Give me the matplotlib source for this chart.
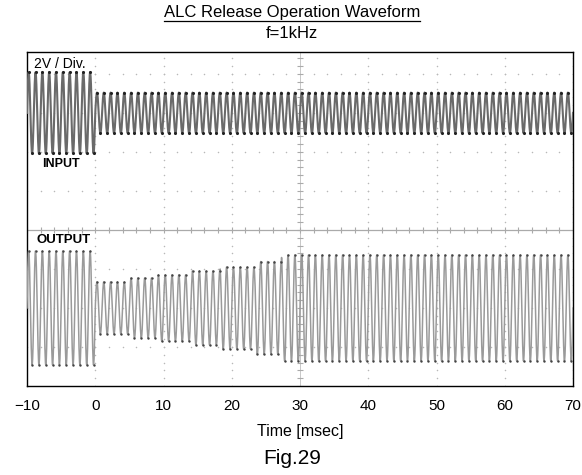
import numpy as np
import matplotlib
matplotlib.use("Agg")
import matplotlib.pyplot as plt
from matplotlib.lines import Line2D

plt.rcParams['font.family'] = ['Liberation Sans', 'DejaVu Sans']

# signal settings (units: ms, divisions)
freq_khz = 1.0
t_start, t_end = -10, 70
x_ticks = [-10, 0, 10, 20, 30, 40, 50, 60, 70]

# input trace: centre at +3 div, amplitude steps down at t=0
input_center = 3.0
input_step_t = [-10, 0]
input_step_amp = [1.04, 0.52]

# output trace: centre at -2 div, ALC releases gain in steps
output_center = -2.0
output_step_t = [-10, 0, 5, 9.2, 14.2, 18.3, 23.4, 27.3]
output_step_amp = [1.46, 0.67, 0.77, 0.85, 0.95, 1.05, 1.19, 1.36]

t = np.arange(t_start, t_end + 0.001, 1 / 40)
carrier = np.sin(2 * np.pi * freq_khz * t)


def envelope(step_t, step_amp):
    idx = np.searchsorted(step_t, t, side='right') - 1
    return np.array(step_amp)[np.clip(idx, 0, len(step_amp) - 1)]


y_in = input_center + envelope(input_step_t, input_step_amp) * carrier
y_out = output_center + envelope(output_step_t, output_step_amp) * carrier

fig = plt.figure(figsize=(5.82, 4.75), dpi=100)
ax = fig.add_axes([27 / 582, 1 - 386 / 475, 546 / 582, 334 / 475])
ax.set_xlim(t_start, t_end)
ax.set_ylim(-4, 4.56)

# graticule: dots at each fifth of a division
grid_col = '#b8b8b8'
for gx in range(0, 71, 10):
    ys = np.arange(-4, 4.6, 0.2)
    ax.scatter(np.full_like(ys, gx), ys, s=1.2, color=grid_col, lw=0, zorder=1)
for gy in range(-3, 5):
    xs = np.arange(-10, 70.01, 2)
    ax.scatter(xs, np.full_like(xs, gy), s=1.2, color=grid_col, lw=0, zorder=1)
ax.axhline(0, color='#aaaaaa', lw=0.9, zorder=1)
ax.axvline(30, color='#c8c8c8', lw=0.7, zorder=1)
ax.scatter(np.arange(-10, 70.01, 2), np.zeros(41), marker='|', s=14, color='#aaaaaa', lw=0.8, zorder=1)
ax.scatter(np.full(43, 30), np.arange(-4, 4.6, 0.2), marker='_', s=14, color='#aaaaaa', lw=0.8, zorder=1)

# traces
ax.plot(t, y_in, color='#6a6a6a', lw=1.5, zorder=3)
ax.plot(t, y_out, color='#9a9a9a', lw=1.1, zorder=3)
pk = np.isclose(np.abs(carrier), 1, atol=0.01)
ax.scatter(t[pk], y_in[pk], s=5, color='#222222', lw=0, zorder=4)
ax.scatter(t[pk], y_out[pk], s=3, color='#444444', lw=0, zorder=4)

ax.text(0.012, 0.985, '2V / Div.', transform=ax.transAxes, fontsize=10, va='top', ha='left')
ax.text(-7.8, 1.7, 'INPUT', fontsize=9, fontweight='bold', va='center', ha='left', zorder=5)
ax.text(-8.6, -0.25, 'OUTPUT', fontsize=9.5, fontweight='bold', va='center', ha='left', zorder=5)

ax.set_xticks(x_ticks)
ax.set_xticklabels([str(v).replace('-', '\u2212') for v in x_ticks], fontsize=11)
ax.set_yticks([])
ax.tick_params(axis='x', length=0, pad=9)
for s in ax.spines.values():
    s.set_linewidth(1.0)

ax.set_xlabel('Time [msec]', fontsize=11.5, labelpad=8)

title = fig.text(292 / 582, 1 - 13 / 475, 'ALC Release Operation Waveform', ha='center', va='center', fontsize=12)
fig.text(292 / 582, 1 - 33 / 475, 'f=1kHz', ha='center', va='center', fontsize=12)
fig.text(292 / 582, 1 - 458 / 475, 'Fig.29', ha='center', va='center', fontsize=15)

# underline the title
fig.canvas.draw()
bb = title.get_window_extent().transformed(fig.transFigure.inverted())
fig.add_artist(Line2D([bb.x0, bb.x1], [bb.y0 - 0.002, bb.y0 - 0.002], color='black', lw=0.9, transform=fig.transFigure))

fig.savefig('out.png', dpi=100)
